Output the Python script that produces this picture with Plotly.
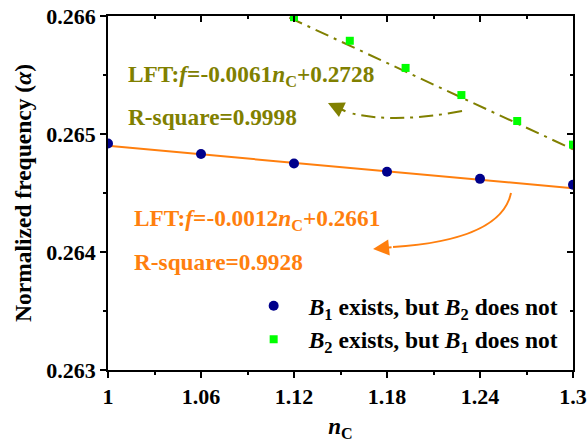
import plotly.graph_objects as go

# Mode data: normalized frequency vs refractive index n_C
nc_b1 = [1.00, 1.06, 1.12, 1.18, 1.24, 1.30]
freq_b1 = [0.26492, 0.26483, 0.26475, 0.26468, 0.26462, 0.26457]

nc_b2 = [1.120, 1.156, 1.192, 1.228, 1.264, 1.300]
freq_b2 = [0.26599, 0.26579, 0.26556, 0.26533, 0.26511, 0.26491]

# Linear fits  f = slope * n_C + intercept, with R-square
fit_b1 = (-0.0012, 0.2661, 0.9928)
fit_b2 = (-0.0061, 0.2728, 0.9998)

x_ticks = [1, 1.06, 1.12, 1.18, 1.24, 1.3]
x_tick_text = ["1", "1.06", "1.12", "1.18", "1.24", "1.3"]
y_ticks = [0.263, 0.264, 0.265, 0.266]

FONT = "Times New Roman, Liberation Serif, serif"
OLIVE = "#808000"
ORANGE = "#FF7F0E"
NAVY = "#00008B"
GREEN = "#00FF00"
DASHDOT = "14px,6px,3px,6px"


def line(fit, xs):
    return [fit[0] * x + fit[1] for x in xs]


fig = go.Figure()

fit1_x = [1.0, 1.3]
fig.add_trace(go.Scatter(x=fit1_x, y=line(fit_b1, fit1_x), mode="lines",
                         line=dict(color=ORANGE, width=2), showlegend=False,
                         hoverinfo="skip"))
fit2_x = [1.10, 1.3]
fig.add_trace(go.Scatter(x=fit2_x, y=line(fit_b2, fit2_x), mode="lines",
                         line=dict(color=OLIVE, width=2, dash=DASHDOT),
                         showlegend=False, hoverinfo="skip"))

fig.add_trace(go.Scatter(
    x=nc_b1, y=freq_b1, mode="markers",
    marker=dict(symbol="circle", size=10, color=NAVY),
    name="<i>B</i><sub>1</sub> exists, but <i>B</i><sub>2</sub> does not"))
fig.add_trace(go.Scatter(
    x=nc_b2, y=freq_b2, mode="markers",
    marker=dict(symbol="square", size=8, color=GREEN),
    name="<i>B</i><sub>2</sub> exists, but <i>B</i><sub>1</sub> does not"))

# empty trace so the mirrored frame axes are drawn
fig.add_trace(go.Scatter(x=[], y=[], xaxis="x2", yaxis="y2", showlegend=False))

XR = [1.0, 1.3]
YR = [0.263, 0.266]

fig.update_layout(
    width=587, height=442,
    margin=dict(l=108, r=14, t=16, b=72),
    paper_bgcolor="white", plot_bgcolor="white",
    font=dict(family=FONT, size=22, color="black", weight="bold"),
    showlegend=True,
    legend=dict(x=0.281, y=0.133, xanchor="left", yanchor="middle",
                bgcolor="rgba(0,0,0,0)", font=dict(size=23.5, family=FONT),
                itemwidth=60, tracegroupgap=0),
    xaxis=dict(range=XR, tickvals=x_ticks, ticktext=x_tick_text,
               automargin=False,
               showgrid=False, zeroline=False,
               showline=True, linecolor="black", linewidth=1.5,
               ticks="outside", ticklen=6, tickwidth=1.5, tickcolor="black",
               minor=dict(dtick=0.03, tick0=1.0, ticks="outside", ticklen=3,
                          tickwidth=1.5, tickcolor="black", showgrid=False),
               title=dict(text="<i>n</i><sub>C</sub>", font=dict(size=23),
                          standoff=13)),
    yaxis=dict(range=YR, tickvals=y_ticks, tickformat=".3f",
               automargin=False,
               showgrid=False, zeroline=False,
               showline=True, linecolor="black", linewidth=1.5,
               ticks="outside", ticklen=6, tickwidth=1.5, tickcolor="black",
               minor=dict(dtick=0.0005, tick0=0.263, ticks="outside", ticklen=3,
                          tickwidth=1.5, tickcolor="black", showgrid=False),
               title=dict(text="Normalized frequency (<i>α</i>)",
                          font=dict(size=23.5), standoff=8)),
    xaxis2=dict(range=XR, overlaying="x", side="top", anchor="y2",
                automargin=False,
                showgrid=False, zeroline=False, showticklabels=False,
                showline=True, linecolor="black", linewidth=1.5,
                tickvals=x_ticks, ticks="inside", ticklen=6, tickwidth=1.5,
                tickcolor="black",
                minor=dict(dtick=0.03, tick0=1.0, ticks="inside", ticklen=3,
                           tickwidth=1.5, tickcolor="black", showgrid=False)),
    yaxis2=dict(range=YR, overlaying="y", side="right", anchor="x2",
                automargin=False,
                showgrid=False, zeroline=False, showticklabels=False,
                showline=True, linecolor="black", linewidth=1.5,
                tickvals=y_ticks, ticks="inside", ticklen=6, tickwidth=1.5,
                tickcolor="black",
                minor=dict(dtick=0.0005, tick0=0.263, ticks="inside", ticklen=3,
                           tickwidth=1.5, tickcolor="black", showgrid=False)),
)


def eq_text(fit):
    sign = "+" if fit[1] >= 0 else "-"
    return (f"LFT:<i>f</i>={fit[0]:.4f}<i>n</i><sub>C</sub>{sign}{abs(fit[1]):.4f}")


annots = [
    dict(text=eq_text(fit_b2), x=0.038, y=0.83, color=OLIVE),
    dict(text=f"R-square={fit_b2[2]:.4f}", x=0.038, y=0.715, color=OLIVE),
    dict(text=eq_text(fit_b1), x=0.051, y=0.424, color=ORANGE),
    dict(text=f"R-square={fit_b1[2]:.4f}", x=0.051, y=0.305, color=ORANGE),
]
for a in annots:
    fig.add_annotation(text=a["text"], x=a["x"], y=a["y"], xref="paper",
                       yref="paper", xanchor="left", yanchor="middle",
                       showarrow=False,
                       font=dict(size=23.3, color=a["color"], family=FONT,
                                 weight="bold"))

# Curved pointer arrows from the fit lines to their labels
fig.add_shape(type="path", xref="x", yref="y",
              path="M 1.2284 0.265195 Q 1.1845 0.265085 1.1561 0.265178",
              line=dict(color=OLIVE, width=2, dash=DASHDOT))
fig.add_annotation(x=1.1419, y=0.265263, ax=19, ay=9,
                   xref="x", yref="y", text="",
                   showarrow=True, arrowhead=2, arrowsize=1.6, arrowwidth=2,
                   arrowcolor=OLIVE)

fig.add_shape(type="path", xref="x", yref="y",
              path="M 1.2600 0.2645 Q 1.2535 0.264102 1.1839 0.264042",
              line=dict(color=ORANGE, width=2))
fig.add_annotation(x=1.1710, y=0.264025, ax=20, ay=-2,
                   xref="x", yref="y", text="",
                   showarrow=True, arrowhead=2, arrowsize=1.6, arrowwidth=2,
                   arrowcolor=ORANGE)

fig.write_html("out.html")
